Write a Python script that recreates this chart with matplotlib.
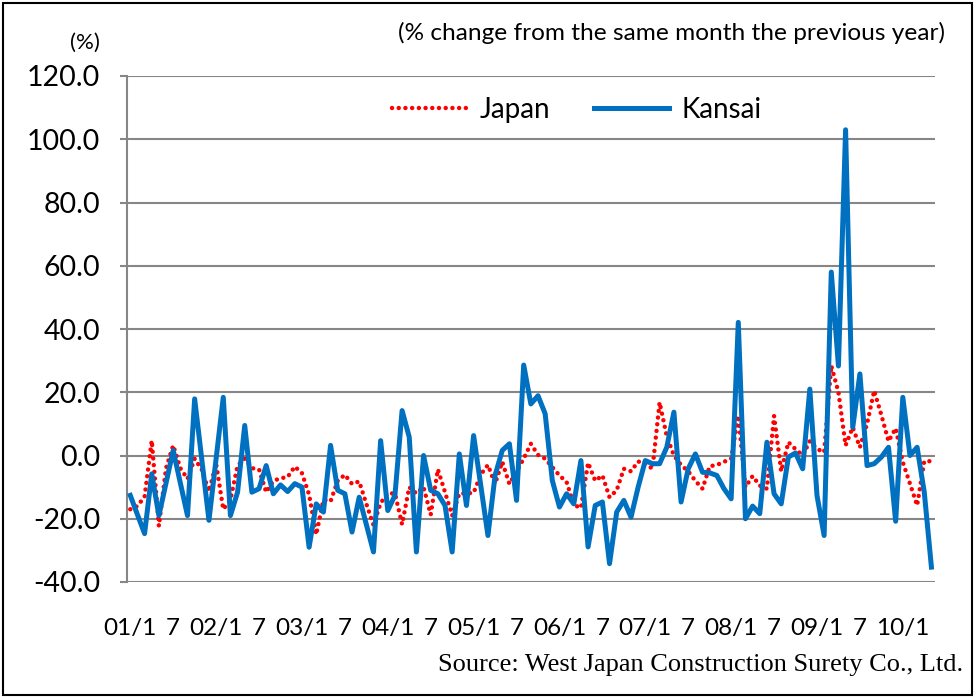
import matplotlib
matplotlib.use("Agg")
import matplotlib.pyplot as plt
from matplotlib.patches import Rectangle

# Monthly data, 2001/1 .. 2010/5 (% change from same month previous year)
kansai = [
    -12.6, -18.7, -24.7, -5.8, -19.0, -8.7, 1.6, -8.7, -19.0, 17.9, -1.3, -20.5,
    -1.0, 18.4, -19.0, -11.6, 9.5, -11.6, -10.5, -3.2, -12.1, -9.3, -11.4, -8.9,
    -10.0, -29.0, -15.3, -17.9, 3.2, -11.0, -12.1, -24.2, -13.2, -21.8, -30.5, 4.7,
    -17.4, -12.6, 14.2, 5.8, -30.5, 0.0, -11.0, -12.1, -15.8, -30.5, 0.5, -15.8,
    6.3, -9.5, -25.3, -6.3, 1.6, 3.7, -14.2, 28.6, 16.3, 18.9, 13.2, -7.9,
    -16.3, -12.1, -15.3, -1.6, -28.9, -15.8, -14.7, -34.2, -17.9, -14.2, -19.5, -10.0,
    -1.6, -2.6, -2.6, 2.6, 13.7, -14.7, -4.2, 0.5, -5.3, -5.5, -6.3, -10.5,
    -13.7, 42.1, -20.0, -16.0, -18.4, 4.2, -12.1, -15.3, -0.5, 0.8, -4.2, 21.0,
    -12.6, -25.3, 58.0, 28.3, 103.0, 8.9, 25.8, -3.2, -2.6, -0.5, 2.6, -20.8,
    18.4, 0.0, 2.6, -11.6, -35.3,
]
japan = [
    -17.0, -16.0, -13.0, 4.7, -22.3, -4.0, 3.2, -4.0, -7.4, -1.0, -4.5, -11.4,
    -2.6, -17.0, -14.0, -3.2, -1.0, -4.0, -4.4, -11.6, -8.0, -7.2, -6.8, -3.5,
    -5.6, -12.4, -25.0, -14.0, -14.5, -8.0, -6.1, -9.0, -8.2, -15.3, -22.0, -15.0,
    -12.0, -12.0, -21.8, -10.0, -12.0, -10.0, -18.7, -4.4, -11.6, -19.0, -12.0, -12.0,
    -11.8, -6.0, -3.0, -9.0, -2.0, -9.0, -5.0, -1.0, 3.7, 0.2, -1.0, -3.7,
    -6.3, -8.4, -15.6, -16.6, -2.3, -8.0, -6.3, -13.2, -11.0, -4.2, -5.0, -1.9,
    -2.5, -4.2, 16.8, 6.1, 0.0, -3.0, -5.0, -8.0, -10.5, -3.4, -3.0, -2.0,
    -1.0, 12.6, -10.0, -6.5, -9.5, -10.5, 12.5, -5.0, 4.2, 2.0, 0.0, 4.5,
    2.1, 1.0, 28.4, 20.0, 3.2, 8.9, 2.6, 10.0, 20.5, 12.8, 4.5, 8.6,
    -2.1, -8.9, -15.8, -1.8, -1.8,
]
years = ["01", "02", "03", "04", "05", "06", "07", "08", "09", "10"]
tick_labels = []
for y in years:
    tick_labels += [y + "/1", "7"]
tick_labels = tick_labels[:19]
yticks = [-40, -20, 0, 20, 40, 60, 80, 100, 120]

FONT = "Lato"
GRID = "#868686"

fig = plt.figure(figsize=(9.75, 6.98), dpi=100)
ax = fig.add_axes([126.7 / 975, 1 - 582 / 698, (935 - 126.7) / 975, (582 - 76) / 698])

x = list(range(len(kansai)))
ax.plot(x, japan, color="#FF0000", linestyle=(0, (0.01, 1.5)), linewidth=3.2,
        dash_capstyle="round", label="Japan", zorder=3)
ax.plot(x, kansai, color="#0070C0", linewidth=3.6, solid_joinstyle="round",
        label="Kansai", zorder=4)

ax.set_xlim(-0.5, len(kansai) - 0.5)
ax.set_ylim(-40, 120)
ax.set_yticks(yticks)
ax.set_yticklabels([f"{v:.1f}" for v in yticks], fontsize=20.5, family=FONT)
ax.set_xticks(list(range(0, 6 * len(tick_labels), 6)))
ax.set_xticklabels(tick_labels, fontsize=17.5, family=FONT)
ax.tick_params(axis="y", direction="out", length=5, width=1.5, color=GRID, pad=14)
ax.tick_params(axis="x", length=0, pad=26)
ax.grid(axis="y", color=GRID, linewidth=1.5)
ax.set_axisbelow(True)
for s in ["top", "right", "bottom"]:
    ax.spines[s].set_visible(False)
ax.spines["left"].set_color(GRID)
ax.spines["left"].set_linewidth(1.5)

leg = ax.legend(loc="center", bbox_to_anchor=(577 / 975, 1 - 110 / 698),
                bbox_transform=fig.transFigure, ncol=2, frameon=False,
                prop={"family": FONT, "size": 20}, handlelength=2.7,
                columnspacing=1.6, handletextpad=0.45)

fig.text(85 / 975, 1 - 43 / 698, "(%)", ha="center", va="center", fontsize=16, family=FONT)
fig.text(945 / 975, 1 - 33 / 698, "(% change from the same month the previous year)",
         ha="right", va="center", fontsize=17.6, family=FONT)
fig.text(963 / 975, 1 - 665 / 698, "Source: West Japan Construction Surety Co., Ltd.",
         ha="right", va="center", fontsize=19, family="Liberation Serif")

fig.patches.append(Rectangle((3 / 975, 3 / 698), 1 - 6 / 975, 1 - 6 / 698,
                             transform=fig.transFigure, fill=False,
                             edgecolor="black", linewidth=1.5))

fig.savefig("out.png", dpi=100)
